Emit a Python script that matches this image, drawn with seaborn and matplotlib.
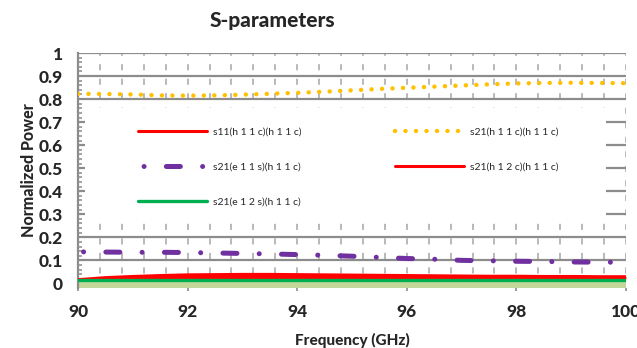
import matplotlib
matplotlib.use("Agg")
import matplotlib.pyplot as plt
import matplotlib.transforms as mtransforms
from matplotlib.patches import Rectangle
import seaborn as sns
import numpy as np

# values, 0.5 GHz steps
freq = [90.0, 90.5, 91.0, 91.5, 92.0, 92.5, 93.0, 93.5, 94.0, 94.5, 95.0,
        95.5, 96.0, 96.5, 97.0, 97.5, 98.0, 98.5, 99.0, 99.5, 100.0]
s11_h11c = [0.020, 0.020, 0.020, 0.020, 0.020, 0.020, 0.020, 0.020, 0.020, 0.020, 0.020,
            0.020, 0.020, 0.020, 0.020, 0.020, 0.020, 0.020, 0.020, 0.020, 0.020]
s21_h11c = [0.823, 0.822, 0.820, 0.816, 0.815, 0.816, 0.819, 0.823, 0.827, 0.832, 0.838,
            0.844, 0.849, 0.854, 0.859, 0.864, 0.868, 0.870, 0.871, 0.870, 0.869]
s21_e11s = [0.137, 0.136, 0.135, 0.135, 0.134, 0.132, 0.130, 0.128, 0.125, 0.122, 0.118,
            0.113, 0.108, 0.105, 0.100, 0.098, 0.096, 0.095, 0.093, 0.092, 0.092]
s21_h12c = [0.016, 0.025, 0.030, 0.034, 0.037, 0.038, 0.039, 0.039, 0.038, 0.037, 0.036,
            0.035, 0.034, 0.033, 0.032, 0.031, 0.031, 0.030, 0.030, 0.029, 0.029]
s21_e12s = [0.015, 0.015, 0.015, 0.015, 0.015, 0.015, 0.015, 0.015, 0.015, 0.015, 0.015,
            0.015, 0.015, 0.015, 0.015, 0.015, 0.015, 0.015, 0.015, 0.015, 0.015]
floor_band = [0.008, 0.008, 0.008, 0.008, 0.008, 0.008, 0.008, 0.008, 0.008, 0.008, 0.008,
              0.008, 0.008, 0.008, 0.008, 0.008, 0.008, 0.008, 0.008, 0.008, 0.008]

labels = ['s11(h 1 1 c)(h 1 1 c)', 's21(h 1 1 c)(h 1 1 c)', 's21(e 1 1 s)(h 1 1 c)',
          's21(h 1 2 c)(h 1 1 c)', 's21(e 1 2 s)(h 1 1 c)']
x_ticks = [90, 92, 94, 96, 98, 100]
y_ticks = [0, 0.1, 0.2, 0.3, 0.4, 0.5, 0.6, 0.7, 0.8, 0.9, 1]
y_ticklabels = ['0', '0.1', '0.2', '0.3', '0.4', '0.5', '0.6', '0.7', '0.8', '0.9', '1']

sns.set_style('white')
plt.rcParams['font.family'] = ['Lato', 'DejaVu Sans']

GRID = '#8c8c8c'
HEAVY = 900
fig = plt.figure(figsize=(6.37, 3.48), dpi=100)
ax = fig.add_axes([78/637, 1-288/348, 548/637, 235/348])
ax.set_axisbelow(True)

ymin = -0.02
ax.fill_between(freq, ymin, floor_band, color='#c4d79b', lw=0, zorder=2)
ax.fill_between(freq, s11_h11c, s21_h12c, color='#ff0000', lw=0, zorder=2)

sns.lineplot(x=freq, y=s11_h11c, ax=ax, color='#ff0000', lw=2.2, label=labels[0], zorder=3)
sns.lineplot(x=freq, y=s21_h12c, ax=ax, color='#ff0000', lw=2.2, label=labels[3], zorder=3)
sns.lineplot(x=freq, y=s21_e12s, ax=ax, color='#00b050', lw=2.4, label=labels[4], zorder=4)
sns.lineplot(x=freq, y=s21_e11s, ax=ax, color='#7030a0', lw=3.6, label=labels[2], zorder=4)
ax.lines[-1].set_linestyle((10.6, (0.01, 4.45, 2.8, 4.45)))
ax.lines[-1].set_dash_capstyle('round')
sns.lineplot(x=freq, y=s21_h11c, ax=ax, color='#ffc000', lw=3.2, label=labels[1], zorder=4)
ax.lines[-1].set_linestyle((0, (0.01, 2.35)))
ax.lines[-1].set_dash_capstyle('round')

ax.set_xlim(90, 100)
ax.set_ylim(ymin, 1.0)
ax.set_xticks(x_ticks)
ax.set_xticklabels([str(t) for t in x_ticks])
ax.set_yticks(y_ticks)
ax.set_yticklabels(y_ticklabels)
ax.set_xticks(np.arange(90, 100.01, 0.4), minor=True)
ax.set_yticks(np.arange(0, 1.001, 0.02), minor=True)
ax.xaxis.remove_overlapping_locs = False

for s in ['top', 'right', 'bottom']:
    ax.spines[s].set_visible(False)
ax.spines['left'].set_color(GRID)
ax.spines['left'].set_linewidth(1.6)

ax.grid(which='major', axis='y', color=GRID, lw=1.6)
ax.grid(which='minor', axis='x', color='#a6a6a6', lw=1.1, ls=(0, (4, 5.5)))
ax.grid(which='major', axis='x', visible=False)

ax.tick_params(axis='y', which='major', direction='out', length=4, width=1.6, color=GRID,
               pad=7, labelsize=12.5)
ax.tick_params(axis='y', which='minor', direction='in', length=3, width=1.1, color=GRID, left=True)
ax.tick_params(axis='x', which='major', direction='out', length=2.5, width=1.2, color=GRID,
               pad=9, labelsize=12.5, bottom=True)
ax.tick_params(axis='x', which='minor', length=0)
for t in ax.get_xticklabels() + ax.get_yticklabels():
    t.set_fontweight(HEAVY)

# white legend backdrop
trans = mtransforms.blended_transform_factory(ax.transAxes, ax.transData)
ax.add_patch(Rectangle((0.012, 0.28), 0.952, 0.48, transform=trans, facecolor='white',
                       edgecolor='none', zorder=1))

h, l = ax.get_legend_handles_labels()
order = [labels[0], labels[2], labels[4], labels[1], labels[3]]
hd = dict(zip(l, h))
ax.legend([hd[k] for k in order], order, ncol=2, loc='upper left',
          bbox_to_anchor=(0.1095, 0.685), frameon=False, fontsize=7.5,
          handlelength=6.6, handletextpad=0.6, labelspacing=2.5, columnspacing=9.0,
          borderpad=0, borderaxespad=0)

ax.set_xlabel('Frequency (GHz)', fontsize=11, fontweight=HEAVY, labelpad=9)
ax.set_ylabel('Normalized Power', fontsize=11.5, fontweight=HEAVY, labelpad=1)
fig.text(272/637, 1-21/348, 'S-parameters', ha='center', va='center',
         fontsize=15, fontweight=HEAVY)

fig.savefig('out.png', dpi=100)
